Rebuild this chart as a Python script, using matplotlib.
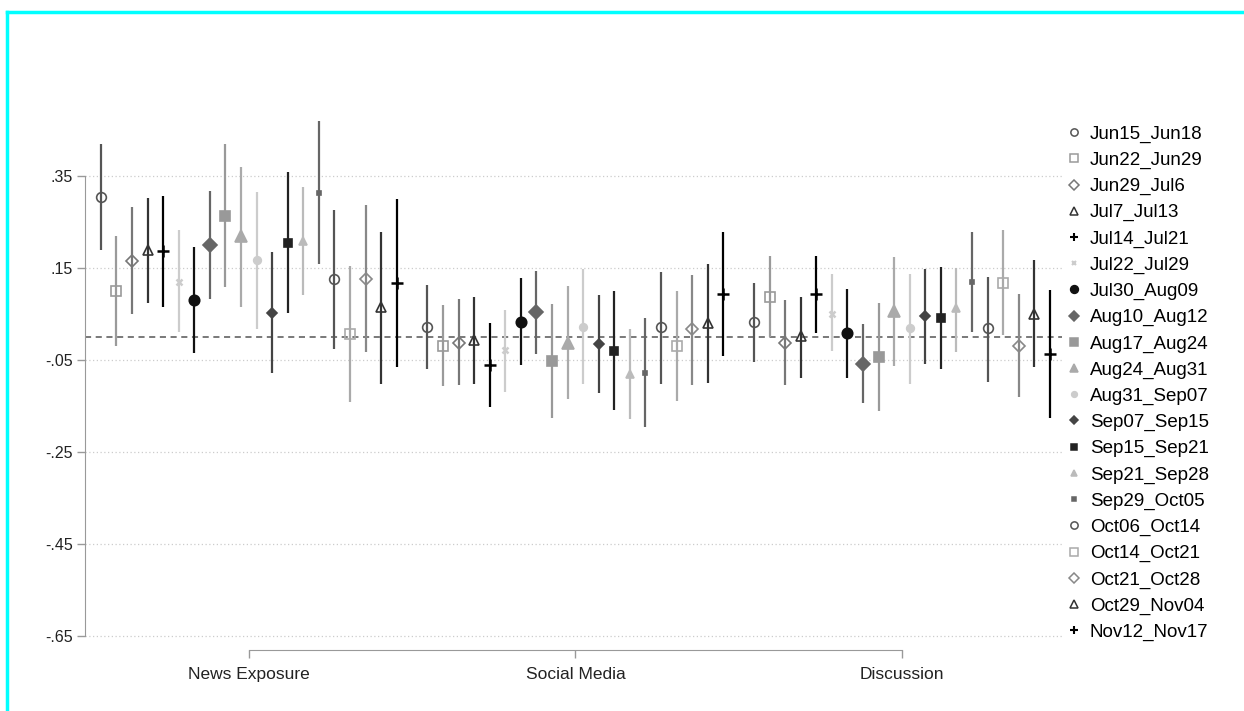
import numpy as np
import matplotlib.pyplot as plt
from matplotlib.lines import Line2D

plt.rcParams['font.family'] = ['Liberation Sans', 'DejaVu Sans']

# Outcome groups on the x axis
groups = ['News Exposure', 'Social Media', 'Discussion']

# Survey waves (one series each)
waves = ['Jun15_Jun18', 'Jun22_Jun29', 'Jun29_Jul6', 'Jul7_Jul13', 'Jul14_Jul21',
         'Jul22_Jul29', 'Jul30_Aug09', 'Aug10_Aug12', 'Aug17_Aug24', 'Aug24_Aug31',
         'Aug31_Sep07', 'Sep07_Sep15', 'Sep15_Sep21', 'Sep21_Sep28', 'Sep29_Oct05',
         'Oct06_Oct14', 'Oct14_Oct21', 'Oct21_Oct28', 'Oct29_Nov04', 'Nov12_Nov17']

# Point estimates, lower and upper CI bounds per group (one value per wave)
news_est = [0.304, 0.101, 0.165, 0.189, 0.187, 0.120, 0.080, 0.200, 0.264, 0.220,
            0.167, 0.053, 0.205, 0.209, 0.314, 0.125, 0.006, 0.126, 0.066, 0.118]
news_lo = [0.189, -0.020, 0.049, 0.075, 0.066, 0.010, -0.035, 0.083, 0.109, 0.066,
           0.018, -0.079, 0.053, 0.091, 0.158, -0.025, -0.141, -0.033, -0.101, -0.065]
news_hi = [0.419, 0.220, 0.282, 0.301, 0.307, 0.233, 0.196, 0.318, 0.420, 0.370,
           0.315, 0.184, 0.359, 0.327, 0.470, 0.276, 0.155, 0.287, 0.229, 0.300]

social_est = [0.022, -0.019, -0.012, -0.007, -0.060, -0.029, 0.033, 0.054, -0.052, -0.012,
              0.022, -0.015, -0.030, -0.080, -0.078, 0.021, -0.019, 0.017, 0.030, 0.093]
social_lo = [-0.070, -0.106, -0.104, -0.102, -0.151, -0.119, -0.061, -0.036, -0.177, -0.135,
             -0.102, -0.121, -0.159, -0.178, -0.196, -0.101, -0.139, -0.104, -0.099, -0.041]
social_hi = [0.112, 0.070, 0.083, 0.087, 0.030, 0.059, 0.128, 0.143, 0.071, 0.111,
             0.148, 0.092, 0.101, 0.017, 0.041, 0.142, 0.101, 0.135, 0.159, 0.229]

disc_est = [0.032, 0.086, -0.012, 0.002, 0.093, 0.051, 0.008, -0.059, -0.043, 0.057,
            0.019, 0.045, 0.042, 0.062, 0.120, 0.019, 0.117, -0.019, 0.051, -0.036]
disc_lo = [-0.055, 0.001, -0.104, -0.088, 0.008, -0.030, -0.088, -0.144, -0.160, -0.062,
           -0.102, -0.059, -0.070, -0.032, 0.012, -0.097, 0.004, -0.130, -0.065, -0.175]
disc_hi = [0.118, 0.175, 0.080, 0.088, 0.177, 0.137, 0.104, 0.028, 0.073, 0.173,
           0.137, 0.148, 0.153, 0.151, 0.228, 0.131, 0.233, 0.093, 0.167, 0.102]

est = np.array([news_est, social_est, disc_est])
lo = np.array([news_lo, social_lo, disc_lo])
hi = np.array([news_hi, social_hi, disc_hi])

y_ticks = [0.35, 0.15, -0.05, -0.25, -0.45, -0.65]
y_labels = ['.35', '.15', '-.05', '-.25', '-.45', '-.65']

# marker, filled?, colour, marker size
styles = [('o', False, '#555555', 7), ('s', False, '#9a9a9a', 7.5), ('D', False, '#777777', 6.5),
          ('^', False, '#333333', 7.5), ('+', False, '#000000', 8.5), ('x', False, '#cccccc', 4.5),
          ('o', True, '#111111', 7.5), ('D', True, '#666666', 7), ('s', True, '#999999', 7.5),
          ('^', True, '#aaaaaa', 8), ('o', True, '#cccccc', 5.5), ('D', True, '#444444', 5),
          ('s', True, '#222222', 5.5), ('^', True, '#bbbbbb', 6), ('s', True, '#666666', 3.5),
          ('o', False, '#555555', 7), ('s', False, '#aaaaaa', 7.5), ('D', False, '#888888', 6.5),
          ('^', False, '#333333', 7.5), ('+', False, '#000000', 8.5)]

fig = plt.figure(figsize=(12.44, 7.11), dpi=100)
ax = fig.add_axes([85 / 1244, 1 - 650 / 711, 977 / 1244, 550 / 711])

step = 0.0477
centers = np.arange(1, len(groups) + 1)
handles = []
for i, wave in enumerate(waves):
    m, filled, c, ms = styles[i]
    x = centers + (i - 9.5) * step
    ax.vlines(x, lo[:, i], hi[:, i], color=c, lw=1.6, zorder=2)
    fc = c if filled else 'none'
    mew = 1.8 if m in '+x' else 1.2
    ax.plot(x, est[:, i], ls='none', marker=m, ms=ms, mfc=fc, mec=c, mew=mew, zorder=3)
    handles.append(Line2D([], [], ls='none', marker=m, ms=ms * 0.75, mfc=fc, mec=c,
                          mew=1.5 if m in '+x' else 1.1, label=wave))

for t in y_ticks:
    ax.axhline(t, color='#cccccc', lw=0.9, ls=(0, (1, 2)), zorder=0)
ax.axhline(0, color='#555555', lw=1.1, ls=(0, (4, 3)), zorder=1)

ax.set_xlim(0.4985, 3.49)
ax.set_ylim(-0.68, 0.515)
ax.set_yticks(y_ticks)
ax.set_yticklabels(y_labels, fontsize=11.5, color='#222222')
ax.set_xticks(centers)
ax.set_xticklabels(groups, fontsize=12.5, color='#222222')
ax.tick_params(axis='both', color='#999999', length=6, width=1)
ax.tick_params(axis='x', pad=6)
ax.tick_params(axis='y', pad=3)

for s in ['top', 'right']:
    ax.spines[s].set_visible(False)
ax.spines['left'].set_bounds(-0.65, 0.35)
ax.spines['bottom'].set_bounds(1, 3)
ax.spines['left'].set_color('#999999')
ax.spines['bottom'].set_color('#999999')

fig.legend(handles=handles, loc='upper left', bbox_to_anchor=(1058 / 1244, 1 - 118 / 711),
           frameon=False, fontsize=13.5, labelspacing=0.475, handletextpad=0.4,
           handlelength=0.9, borderaxespad=0)

# cyan screenshot frame on top and left edges
fig.add_artist(Line2D([7 / 1244, 1], [1 - 12 / 711, 1 - 12 / 711], color='#00ffff', lw=2.5))
fig.add_artist(Line2D([7 / 1244, 7 / 1244], [0, 1 - 12 / 711], color='#00ffff', lw=2.5))

fig.savefig('out.png', dpi=100)
